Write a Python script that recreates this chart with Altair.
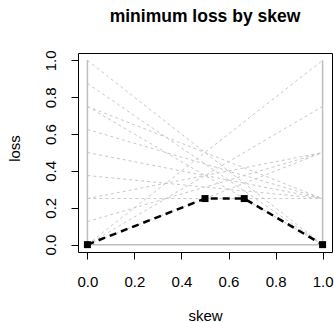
import altair as alt
import pandas as pd

# classifier lines: loss at skew=0 (FPR) and skew=1 (FNR)
fpr = [1.0, 0.875, 0.75, 0.75, 0.625, 0.5, 0.375, 0.25, 0.25, 0.125, 0.0, 0.0, 0.0]
fnr = [0.0, 0.0, 0.0, 0.25, 0.25, 0.25, 0.25, 0.25, 0.5, 0.5, 0.5, 0.75, 1.0]

# lower envelope (minimum loss)
env_skew = [0.0, 0.5, 0.6667, 1.0]
env_loss = [0.0, 0.25, 0.25, 0.0]

# grey frame
frame_skew = [0.0, 0.0, 1.0, 1.0]
frame_loss = [1.0, 0.0, 0.0, 1.0]

x_ticks = [0.0, 0.2, 0.4, 0.6, 0.8, 1.0]
y_ticks = [0.0, 0.2, 0.4, 0.6, 0.8, 1.0]

rows = []
for i, (a, b) in enumerate(zip(fpr, fnr)):
    rows.append({"id": i, "skew": 0.0, "loss": a})
    rows.append({"id": i, "skew": 1.0, "loss": b})
lines_df = pd.DataFrame(rows)
env_df = pd.DataFrame({"skew": env_skew, "loss": env_loss})
frame_df = pd.DataFrame({"skew": frame_skew, "loss": frame_loss, "o": list(range(len(frame_skew)))})

FONT = "Liberation Sans"
xs = alt.Scale(domain=[-0.04, 1.04], nice=False, zero=False)
ys = alt.Scale(domain=[-0.04, 1.04], nice=False, zero=False)

xaxis = alt.Axis(values=x_ticks, format=".1f", grid=False, domain=False, labelOverlap=False,
                 tickColor="black", tickSize=7, tickWidth=1,
                 labelFont=FONT, labelFontSize=15, labelColor="black",
                 labelBaseline="alphabetic", labelPadding=27,
                 title="skew", titleFont=FONT, titleFontSize=15, titleFontWeight="normal",
                 titleColor="black", titleBaseline="alphabetic", titleY=68, titleX=127)
yaxis = alt.Axis(values=y_ticks, format=".1f", grid=False, domain=False, labelOverlap=False,
                 tickColor="black", tickSize=7, tickWidth=1,
                 labelFont=FONT, labelFontSize=15, labelColor="black",
                 labelAngle=270, labelAlign="center", labelBaseline="alphabetic", labelPadding=16,
                 title="loss", titleFont=FONT, titleFontSize=15, titleFontWeight="normal",
                 titleColor="black", titleAngle=270, titleAlign="center",
                 titleBaseline="alphabetic", titleX=-59, titleY=95)

X = alt.X("skew:Q", scale=xs, axis=xaxis)
Y = alt.Y("loss:Q", scale=ys, axis=yaxis)

grey_lines = alt.Chart(lines_df).mark_line(
    color="#c8c8c8", strokeWidth=1, strokeDash=[3, 3]
).encode(x=X, y=Y, detail="id:N")

frame = alt.Chart(frame_df).mark_line(color="#bebebe", strokeWidth=1.5).encode(
    x=X, y=Y, order="o:Q")

env = alt.Chart(env_df).mark_line(color="black", strokeWidth=2.5, strokeDash=[7, 5]).encode(
    x=X, y=Y)

pts = alt.Chart(env_df).mark_point(shape="square", filled=True, color="black", size=49, opacity=1).encode(
    x=X, y=Y)

chart = alt.layer(grey_lines, frame, env, pts).properties(
    width=254, height=199,
    background="white",
    view=alt.ViewBackground(stroke="black", strokeWidth=1, fill="white"),
    title=alt.TitleParams("minimum loss by skew", font=FONT, fontSize=17.5, fontWeight="bold",
                          color="black", anchor="middle", baseline="alphabetic", offset=10),
    autosize=alt.AutoSizeParams(type="none"),
    padding={"left": 78, "top": 53, "right": 2, "bottom": 70},
).configure_view(stroke="black", strokeWidth=1).configure_axis(labelOverlap=False)

chart.save("out.html", embed_options={"renderer": "svg", "actions": False})
